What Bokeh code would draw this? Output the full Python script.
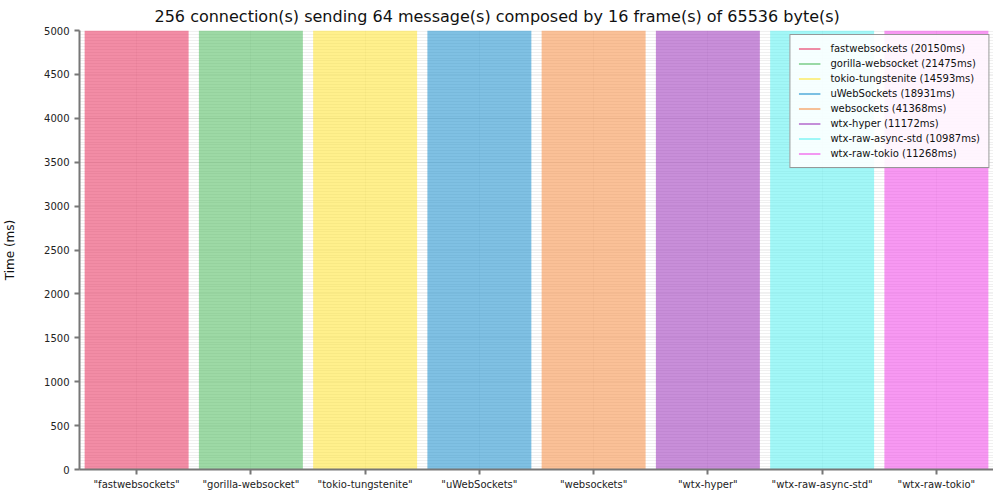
from bokeh.plotting import figure
from bokeh.models import ColumnDataSource, Range1d, Legend, LegendItem, FixedTicker
from bokeh.embed import file_html
from bokeh.resources import INLINE

names = ["fastwebsockets", "gorilla-websocket", "tokio-tungstenite", "uWebSockets",
         "websockets", "wtx-hyper", "wtx-raw-async-std", "wtx-raw-tokio"]
times_ms = [20150, 21475, 14593, 18931, 41368, 11172, 10987, 11268]
colors = ["#e6194b", "#3cb44b", "#ffe119", "#0082c8", "#f58230", "#911eb4", "#46f0f0", "#f032e6"]
y_ticks = [0, 500, 1000, 1500, 2000, 2500, 3000, 3500, 4000, 4500, 5000]
title_text = "256 connection(s) sending 64 message(s) composed by 16 frame(s) of 65536 byte(s)"

cats = ['"%s"' % n for n in names]
src = ColumnDataSource(dict(x=cats, top=times_ms, color=colors))

FONT = "DejaVu Sans"
p = figure(x_range=cats, y_range=Range1d(0, 5000), output_backend="svg",
           toolbar_location=None, frame_width=914, frame_height=439,
           min_border_left=75, min_border_right=0, min_border_top=22, min_border_bottom=23,
           title=title_text)
p.title.text_font = FONT
p.title.text_font_size = "16px"
p.title.text_font_style = "normal"
p.title.text_color = "#111111"
p.title.align = "left"
p.title.offset = 75
p.title.standoff = 9
p.outline_line_color = None

p.vbar(x="x", top="top", width=0.91, source=src, fill_color="color", fill_alpha=0.5, line_color=None)

# legend entries as lines (data lie outside the visible range)
items = []
for n, t, c in zip(names, times_ms, colors):
    r = p.line(x=[cats[0], cats[1]], y=[-100, -200], line_color=c, line_alpha=0.5, line_width=2)
    items.append(LegendItem(label="%s (%dms)" % (n, t), renderers=[r]))
leg = Legend(items=items, location="top_right")
leg.label_text_font = FONT
leg.label_text_font_size = "10px"
leg.label_text_color = "#111111"
leg.label_height = 11
leg.glyph_height = 11
leg.glyph_width = 22
leg.spacing = 4
leg.padding = 8
leg.margin = 4
leg.border_line_color = "#333333"
leg.border_line_width = 1.5
leg.background_fill_alpha = 0.9
leg.label_standoff = 10
p.add_layout(leg)

p.yaxis.ticker = FixedTicker(ticks=y_ticks, minor_ticks=list(range(0, 5001, 33)))
p.yaxis.axis_label = "Time (ms)"
p.yaxis.axis_label_text_font = FONT
p.yaxis.axis_label_text_font_size = "12px"
p.yaxis.axis_label_text_font_style = "normal"
p.yaxis.axis_label_text_color = "#111111"
p.yaxis.axis_label_standoff = 24
for ax in (p.xaxis, p.yaxis):
    ax.major_label_text_font = FONT
    ax.major_label_text_font_size = "10px"
    ax.major_label_text_color = "#222222"
    ax.axis_line_color = "#777777"
    ax.axis_line_width = 2
    ax.major_tick_line_color = "#777777"
    ax.major_tick_line_width = 2
    ax.major_tick_out = 5
    ax.major_tick_in = 0
    ax.minor_tick_line_color = None
p.xaxis.major_label_standoff = 4

p.ygrid.grid_line_color = "#000000"
p.ygrid.grid_line_alpha = 0.05
p.ygrid.minor_grid_line_color = "#000000"
p.ygrid.minor_grid_line_alpha = 0.06
p.xgrid.grid_line_color = "#000000"
p.xgrid.grid_line_alpha = 0.04

open("out.html", "w").write(file_html(p, INLINE))
